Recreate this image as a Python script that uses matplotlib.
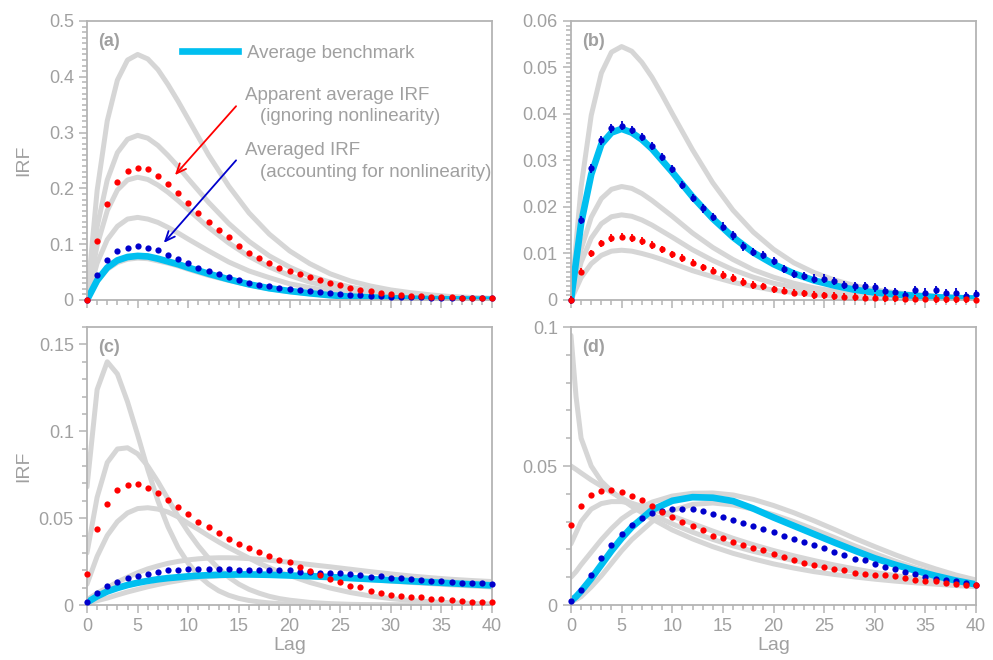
import matplotlib
matplotlib.use('Agg')
import matplotlib.pyplot as plt
from matplotlib.ticker import MultipleLocator, FuncFormatter

plt.rcParams['font.family'] = ['Liberation Sans', 'DejaVu Sans']

# ---- data ----
lags = list(range(41))

# panels a, b: gray/benchmark curves sampled at these lags
lags_g = [0, 1, 2, 3, 4, 5, 6, 7, 8, 9, 10, 12, 14, 16, 18, 20, 22, 24, 26, 28, 30, 32, 34, 36, 38, 40]

a_gray1 = [0, 0.196, 0.321, 0.394, 0.430, 0.44, 0.432, 0.413, 0.386, 0.356, 0.324, 0.260, 0.204, 0.156, 0.118,
           0.088, 0.065, 0.047, 0.034, 0.025, 0.018, 0.013, 0.009, 0.006, 0.0045, 0.003]
a_gray2 = [0, 0.131, 0.215, 0.264, 0.288, 0.295, 0.290, 0.277, 0.259, 0.239, 0.217, 0.175, 0.137, 0.105, 0.079,
           0.059, 0.043, 0.032, 0.023, 0.017, 0.012, 0.0085, 0.006, 0.0043, 0.003, 0.002]
a_gray3 = [0, 0.098, 0.160, 0.197, 0.215, 0.22, 0.216, 0.206, 0.193, 0.178, 0.162, 0.130, 0.102, 0.078, 0.059,
           0.044, 0.032, 0.024, 0.017, 0.012, 0.009, 0.0064, 0.0045, 0.0032, 0.0023, 0.0016]
a_gray4 = [0, 0.066, 0.108, 0.132, 0.145, 0.148, 0.145, 0.139, 0.130, 0.120, 0.109, 0.088, 0.068, 0.052, 0.040,
           0.029, 0.022, 0.016, 0.012, 0.008, 0.006, 0.0043, 0.003, 0.0022, 0.0015, 0.001]
a_gray5 = [0, 0.033, 0.055, 0.067, 0.073, 0.075, 0.074, 0.070, 0.066, 0.061, 0.055, 0.044, 0.035, 0.027, 0.020,
           0.015, 0.011, 0.008, 0.006, 0.004, 0.003, 0.002, 0.0015, 0.001, 0.0008, 0.0005]
a_bench = [0, 0.035, 0.058, 0.071, 0.077, 0.079, 0.078, 0.074, 0.069, 0.064, 0.058, 0.047, 0.037, 0.028, 0.021,
           0.016, 0.012, 0.0085, 0.006, 0.0045, 0.0032, 0.0023, 0.0016, 0.0012, 0.0008, 0.0006]
a_red = [0, 0.106, 0.172, 0.211, 0.232, 0.237, 0.234, 0.223, 0.208, 0.192,
         0.173, 0.156, 0.140, 0.125, 0.112, 0.097, 0.085, 0.075, 0.066, 0.058,
         0.052, 0.046, 0.041, 0.036, 0.030, 0.026, 0.022, 0.018, 0.0155, 0.0125,
         0.010, 0.0085, 0.0072, 0.0065, 0.0055, 0.005, 0.0047, 0.004, 0.0035, 0.003, 0.003]
a_blue = [0, 0.045, 0.072, 0.087, 0.094, 0.096, 0.094, 0.089, 0.081, 0.073,
          0.066, 0.058, 0.052, 0.047, 0.041, 0.035, 0.031, 0.0275, 0.0245, 0.022,
          0.019, 0.017, 0.0155, 0.0137, 0.0125, 0.011, 0.0095, 0.0085, 0.0075, 0.007,
          0.006, 0.0055, 0.005, 0.0047, 0.0044, 0.004, 0.0038, 0.0035, 0.0033, 0.003, 0.003]

b_gray1 = [0, 0.0243, 0.0397, 0.0488, 0.0533, 0.0545, 0.0535, 0.0511, 0.0479, 0.0441, 0.0401, 0.0323, 0.0252,
           0.0193, 0.0146, 0.0109, 0.008, 0.0059, 0.0043, 0.0031, 0.0022, 0.0016, 0.0011, 0.0008, 0.0006, 0.0004]
b_gray2 = [0, 0.0109, 0.0178, 0.0218, 0.0238, 0.0244, 0.024, 0.0229, 0.0214, 0.0197, 0.018, 0.0144, 0.0113,
           0.0087, 0.0065, 0.0049, 0.0036, 0.0026, 0.0019, 0.0014, 0.001, 0.0007, 0.0005, 0.0004, 0.0003, 0.0002]
b_gray3 = [0, 0.0081, 0.0133, 0.0164, 0.0179, 0.0183, 0.018, 0.0172, 0.0161, 0.0148, 0.0135, 0.0108, 0.0085,
           0.0065, 0.0049, 0.0036, 0.0027, 0.002, 0.0014, 0.001, 0.0007, 0.0005, 0.0004, 0.0003, 0.0002, 0.0001]
b_gray4 = [0, 0.0048, 0.0078, 0.0096, 0.0105, 0.0107, 0.0105, 0.01, 0.0094, 0.0087, 0.0079, 0.0063, 0.005,
           0.0038, 0.0029, 0.0021, 0.0016, 0.0011, 0.0008, 0.0006, 0.0004, 0.0003, 0.0002, 0.0002, 0.0001, 0.0001]
b_bench = [0, 0.0165, 0.027, 0.0335, 0.036, 0.0368, 0.036, 0.0345, 0.0325, 0.030, 0.0275, 0.0222, 0.0175,
           0.0135, 0.0102, 0.0077, 0.0057, 0.0042, 0.0031, 0.0022, 0.0016, 0.0012, 0.0009, 0.0006, 0.0004, 0.0003]
b_red = [0, 0.0061, 0.010, 0.0122, 0.0133, 0.0136, 0.0133, 0.0127, 0.0118, 0.0109,
         0.0098, 0.009, 0.008, 0.007, 0.0063, 0.0054, 0.0047, 0.0039, 0.0032, 0.0029,
         0.0023, 0.002, 0.0016, 0.0014, 0.0011, 0.001, 0.0009, 0.0007, 0.0006, 0.0005,
         0.0005, 0.0004, 0.0004, 0.0003, 0.0003, 0.0003, 0.0002, 0.0002, 0.0002, 0.0002, 0.0001]
b_blue = [0, 0.0172, 0.0283, 0.0343, 0.0369, 0.0375, 0.0366, 0.035, 0.0331, 0.0307,
          0.0281, 0.0247, 0.0219, 0.0197, 0.0178, 0.0158, 0.0139, 0.0115, 0.0103, 0.0097,
          0.0084, 0.0066, 0.0056, 0.0052, 0.0046, 0.0046, 0.0041, 0.0032, 0.0029, 0.003,
          0.0027, 0.0019, 0.0017, 0.001, 0.0021, 0.0016, 0.0021, 0.0014, 0.0016, 0.0009, 0.0013]
b_red_err = 0.0008
b_blue_err = 0.0009

# panel c
lags_c = [0, 1, 2, 3, 4, 5, 6, 7, 8, 9, 10, 11, 12, 13, 14, 15, 16, 17, 18, 19, 20,
          22, 24, 26, 28, 30, 32, 34, 36, 38, 40]
c_gray1 = [0.068, 0.124, 0.14, 0.133, 0.117, 0.098, 0.078, 0.06, 0.045, 0.033, 0.024, 0.017, 0.012, 0.0082,
           0.0056, 0.0038, 0.0026, 0.0018, 0.0012, 0.0008, 0.0005, 0.0002, 0.0001, 0, 0, 0, 0, 0, 0, 0, 0]
c_gray2 = [0.03, 0.062, 0.082, 0.0898, 0.0905, 0.087, 0.08, 0.071, 0.061, 0.051, 0.042, 0.034, 0.027, 0.021,
           0.016, 0.012, 0.009, 0.0068, 0.005, 0.0037, 0.0028, 0.0015, 0.0008, 0.0004, 0.0002, 0.0001,
           0, 0, 0, 0, 0]
c_gray3 = [0.012, 0.028, 0.04, 0.048, 0.053, 0.0555, 0.056, 0.0552, 0.0535, 0.0507, 0.047, 0.0435, 0.0398,
           0.0363, 0.033, 0.030, 0.027, 0.024, 0.0215, 0.019, 0.017, 0.013, 0.0098, 0.0072, 0.0052, 0.0037,
           0.0026, 0.0018, 0.0013, 0.0009, 0.0006]
c_gray4 = [0.003, 0.0068, 0.010, 0.0132, 0.016, 0.0186, 0.0208, 0.0225, 0.024, 0.0251, 0.026, 0.0266, 0.027,
           0.0272, 0.0272, 0.027, 0.0267, 0.0263, 0.0258, 0.0252, 0.0246, 0.0233, 0.022, 0.0206, 0.0192,
           0.0179, 0.0167, 0.0157, 0.0148, 0.0141, 0.0135]
c_gray5 = [0.001, 0.0025, 0.004, 0.0058, 0.0075, 0.009, 0.0105, 0.0118, 0.013, 0.014, 0.015, 0.0157, 0.0163,
           0.0167, 0.017, 0.0172, 0.0173, 0.0173, 0.0173, 0.0172, 0.017, 0.0165, 0.016, 0.0153, 0.0146,
           0.0138, 0.013, 0.0123, 0.0116, 0.011, 0.0104]
c_bench = [0.0015, 0.005, 0.0078, 0.0098, 0.0115, 0.0128, 0.0139, 0.0148, 0.0155, 0.016, 0.0165, 0.0169,
           0.0172, 0.0174, 0.0175, 0.0176, 0.0176, 0.0175, 0.0174, 0.0172, 0.017, 0.0166, 0.0161, 0.0155,
           0.0149, 0.0143, 0.0137, 0.0131, 0.0125, 0.0119, 0.0113]
c_red = [0.0178, 0.0435, 0.0584, 0.0661, 0.0693, 0.0697, 0.0676, 0.0647, 0.0607, 0.0565,
         0.0523, 0.048, 0.0448, 0.0416, 0.0381, 0.0354, 0.0326, 0.0305, 0.0284, 0.0262,
         0.0245, 0.022, 0.0195, 0.0172, 0.0149, 0.0132, 0.0111, 0.0102, 0.0082, 0.0071,
         0.0056, 0.0052, 0.0048, 0.0044, 0.0036, 0.0033, 0.0027, 0.0023, 0.0019, 0.0015, 0.0015]
c_blue = [0.0019, 0.0071, 0.0107, 0.0132, 0.0155, 0.0169, 0.018, 0.0191, 0.0199, 0.0203,
          0.0206, 0.0208, 0.0207, 0.0207, 0.0205, 0.0201, 0.0201, 0.0201, 0.0201, 0.0201,
          0.0201, 0.0191, 0.0188, 0.0186, 0.0182, 0.0182, 0.0176, 0.017, 0.0163, 0.0167,
          0.0157, 0.0153, 0.0148, 0.0144, 0.014, 0.0136, 0.0132, 0.0128, 0.0128, 0.0125, 0.0119]

# panel d
lags_d = [0, 0.5, 1, 2, 3, 4, 5, 6, 8, 10, 12, 14, 16, 18, 20, 22, 24, 26, 28, 30, 32, 34, 36, 38, 40]
d_gray1 = [0.097, 0.075, 0.060, 0.050, 0.0445, 0.041, 0.038, 0.0355, 0.031, 0.027, 0.0238, 0.021, 0.0186,
           0.0166, 0.0148, 0.0133, 0.012, 0.011, 0.0101, 0.0093, 0.0086, 0.008, 0.0075, 0.007, 0.0066]
d_gray2 = [0.050, 0.0488, 0.0475, 0.045, 0.0428, 0.0405, 0.0385, 0.0365, 0.0325, 0.0292, 0.0262, 0.0236,
           0.0213, 0.0193, 0.0176, 0.016, 0.0146, 0.0133, 0.0121, 0.011, 0.01, 0.0091, 0.0083, 0.0076, 0.007]
d_gray3 = [0.022, 0.026, 0.030, 0.0345, 0.0365, 0.0372, 0.0372, 0.0366, 0.0345, 0.032, 0.0293, 0.0266, 0.024,
           0.0217, 0.0196, 0.0177, 0.016, 0.0144, 0.013, 0.0117, 0.0106, 0.0096, 0.0087, 0.0079, 0.0072]
d_gray4 = [0.010, 0.012, 0.0145, 0.019, 0.0235, 0.0275, 0.031, 0.0335, 0.037, 0.0392, 0.0402, 0.0403, 0.0396,
           0.038, 0.0358, 0.0332, 0.0303, 0.0272, 0.024, 0.021, 0.0181, 0.0154, 0.013, 0.0108, 0.009]
d_gray5 = [0.001, 0.002, 0.003, 0.0065, 0.0105, 0.015, 0.0195, 0.0235, 0.0300, 0.034, 0.0362, 0.0367, 0.036,
           0.0345, 0.0325, 0.03, 0.0272, 0.0243, 0.0213, 0.0185, 0.0158, 0.0134, 0.0113, 0.0094, 0.0078]
d_bench = [0.0015, 0.003, 0.005, 0.0095, 0.0145, 0.0195, 0.024, 0.028, 0.0342, 0.0375, 0.0388, 0.0386,
           0.0374, 0.0347, 0.0315, 0.0285, 0.0255, 0.0225, 0.0196, 0.0168, 0.0145, 0.0124, 0.0105, 0.0088, 0.0074]
d_red = [0.0288, 0.0355, 0.0395, 0.0409, 0.0414, 0.0405, 0.0392, 0.0376, 0.0355, 0.0333,
         0.0315, 0.030, 0.0284, 0.0271, 0.025, 0.024, 0.0228, 0.0216, 0.0206, 0.0197,
         0.0182, 0.0171, 0.0161, 0.0152, 0.0145, 0.0138, 0.0131, 0.0126, 0.0114, 0.0111,
         0.0109, 0.0107, 0.0103, 0.0098, 0.009, 0.0086, 0.0085, 0.0078, 0.0077, 0.0073, 0.0071]
d_blue = [0.0014, 0.0055, 0.0109, 0.0168, 0.0216, 0.0255, 0.0288, 0.0313, 0.033, 0.0339,
          0.0344, 0.0344, 0.0344, 0.034, 0.0329, 0.0318, 0.0306, 0.0295, 0.0285, 0.0275,
          0.0261, 0.0249, 0.0239, 0.0225, 0.0216, 0.0206, 0.019, 0.0179, 0.0167, 0.0162,
          0.0149, 0.0136, 0.0129, 0.0119, 0.011, 0.0102, 0.0095, 0.0089, 0.0085, 0.008, 0.0072]

# ---- colours ----
GRAY = '#d6d6d6'
CYAN = '#00bff0'
RED = '#ff0000'
BLUE = '#0000cc'
AXIS = '#b4b4b4'
TEXT = '#a0a0a0'


def fmt(v, pos):
    return '%g' % round(v, 6)


def style(ax, ymax, ymajor, yminor, label, bottom_row):
    ax.set_xlim(0, 40)
    ax.set_ylim(0, ymax)
    ax.xaxis.set_major_locator(MultipleLocator(5))
    ax.xaxis.set_minor_locator(MultipleLocator(1))
    ax.yaxis.set_major_locator(MultipleLocator(ymajor))
    ax.yaxis.set_minor_locator(MultipleLocator(yminor))
    ax.yaxis.set_major_formatter(FuncFormatter(fmt))
    ax.tick_params(which='both', direction='out', color=AXIS, labelcolor=TEXT, labelsize=13, width=1.1)
    ax.tick_params(which='major', length=6)
    ax.tick_params(which='minor', length=3.5)
    for s in ax.spines.values():
        s.set_color(AXIS)
        s.set_linewidth(1.3)
    if bottom_row:
        ax.set_xlabel('Lag', color=TEXT, fontsize=14, labelpad=1)
    else:
        ax.tick_params(labelbottom=False)
    ax.text(0.027, 0.925, label, transform=ax.transAxes, color=TEXT, fontsize=13,
            fontweight='bold', ha='left', va='center')


def gray_curves(ax, x, curves):
    for c in curves:
        ax.plot(x, c, color=GRAY, lw=3.6, solid_capstyle='round', solid_joinstyle='round', zorder=1)


def dots(ax, y, color):
    ax.plot(lags, y, 'o', color=color, ms=4.5, mec='none', zorder=4, clip_on=False)


fig = plt.figure(figsize=(9.93, 6.6), dpi=100)
ax_a = fig.add_axes([0.0876, 0.5455, 0.408, 0.4227])
ax_b = fig.add_axes([0.575, 0.5455, 0.408, 0.4227])
ax_c = fig.add_axes([0.0876, 0.0833, 0.408, 0.4212])
ax_d = fig.add_axes([0.575, 0.0833, 0.408, 0.4212])

# (a)
gray_curves(ax_a, lags_g, [a_gray1, a_gray2, a_gray3, a_gray4, a_gray5])
ax_a.plot(lags_g, a_bench, color=CYAN, lw=4.8, zorder=2, solid_joinstyle='round', label='Average benchmark')
dots(ax_a, a_blue, BLUE)
dots(ax_a, a_red, RED)
style(ax_a, 0.5, 0.1, 0.01, '(a)', False)
ax_a.set_ylabel('IRF', color=TEXT, fontsize=14)
ax_a.yaxis.set_label_coords(-0.135, 0.5)
leg = ax_a.legend(loc='center left', bbox_to_anchor=(0.2346, 0.885), frameon=False,
                  borderpad=0, borderaxespad=0, handlelength=3.0, handletextpad=0.45, fontsize=13.5)
for t in leg.get_texts():
    t.set_color(TEXT)
ax_a.text(15.6, 0.367, 'Apparent average IRF', color=TEXT, fontsize=13.5, va='center')
ax_a.text(17.1, 0.328, '(ignoring nonlinearity)', color=TEXT, fontsize=13.5, va='center')
ax_a.text(15.6, 0.267, 'Averaged IRF', color=TEXT, fontsize=13.5, va='center')
ax_a.text(17.1, 0.2276, '(accounting for nonlinearity)', color=TEXT, fontsize=13.5, va='center')
ax_a.annotate('', xy=(8.5, 0.220), xytext=(14.9, 0.351),
              arrowprops=dict(arrowstyle='->,head_length=0.7,head_width=0.3', color=RED, lw=1.3))
ax_a.annotate('', xy=(7.4, 0.0986), xytext=(14.9, 0.254),
              arrowprops=dict(arrowstyle='->,head_length=0.7,head_width=0.3', color=BLUE, lw=1.3))

# (b)
gray_curves(ax_b, lags_g, [b_gray1, b_gray2, b_gray3, b_gray4])
ax_b.plot(lags_g, b_bench, color=CYAN, lw=4.8, zorder=2, solid_joinstyle='round')
ax_b.errorbar(lags, b_blue, yerr=b_blue_err, fmt='o', color=BLUE, ms=4.5, mec='none',
              elinewidth=1.3, capsize=0, zorder=4, clip_on=False)
ax_b.errorbar(lags, b_red, yerr=b_red_err, fmt='o', color=RED, ms=4.5, mec='none',
              elinewidth=1.3, capsize=0, zorder=4, clip_on=False)
style(ax_b, 0.06, 0.01, 0.001, '(b)', False)

# (c)
gray_curves(ax_c, lags_c, [c_gray1, c_gray2, c_gray3, c_gray4, c_gray5])
ax_c.plot(lags_c, c_bench, color=CYAN, lw=4.8, zorder=2, solid_joinstyle='round')
dots(ax_c, c_blue, BLUE)
dots(ax_c, c_red, RED)
style(ax_c, 0.16, 0.05, 0.01, '(c)', True)
ax_c.set_ylabel('IRF', color=TEXT, fontsize=14)
ax_c.yaxis.set_label_coords(-0.135, 0.5)

# (d)
gray_curves(ax_d, lags_d, [d_gray1, d_gray2, d_gray3, d_gray4, d_gray5])
ax_d.plot(lags_d, d_bench, color=CYAN, lw=4.8, zorder=2, solid_joinstyle='round')
dots(ax_d, d_blue, BLUE)
dots(ax_d, d_red, RED)
style(ax_d, 0.1, 0.05, 0.01, '(d)', True)

fig.savefig('out.png', dpi=100)
